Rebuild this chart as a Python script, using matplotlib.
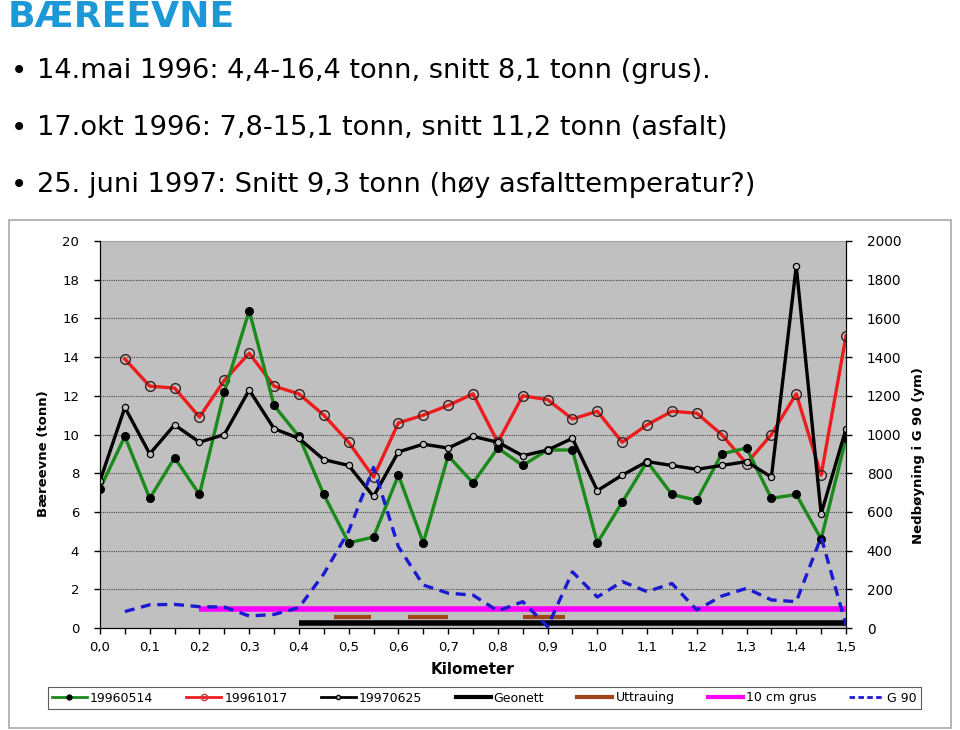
import matplotlib
matplotlib.use("Agg")
import matplotlib.pyplot as plt
from matplotlib.lines import Line2D
from matplotlib.patches import Rectangle
import numpy as np

# ---------------- data ----------------
km = [0.0, 0.05, 0.1, 0.15, 0.2, 0.25, 0.3, 0.35, 0.4, 0.45, 0.5, 0.55, 0.6, 0.65, 0.7,
      0.75, 0.8, 0.85, 0.9, 0.95, 1.0, 1.05, 1.1, 1.15, 1.2, 1.25, 1.3, 1.35, 1.4, 1.45, 1.5]

s19960514 = [7.2, 9.9, 6.7, 8.8, 6.9, 12.2, 16.4, 11.5, 9.9, 6.9, 4.4, 4.7, 7.9, 4.4, 8.9,
             7.5, 9.3, 8.4, 9.2, 9.2, 4.4, 6.5, 8.6, 6.9, 6.6, 9.0, 9.3, 6.7, 6.9, 4.6, 9.8]

s19961017 = [np.nan, 13.9, 12.5, 12.4, 10.9, 12.8, 14.2, 12.5, 12.1, 11.0, 9.6, 7.8, 10.6, 11.0, 11.5,
             12.1, 9.6, 12.0, 11.8, 10.8, 11.2, 9.6, 10.5, 11.2, 11.1, 10.0, 8.5, 10.0, 12.1, 7.9, 15.1]

s19970625 = [7.6, 11.4, 9.0, 10.5, 9.6, 10.0, 12.3, 10.3, 9.8, 8.7, 8.4, 6.8, 9.1, 9.5, 9.3,
             9.9, 9.6, 8.9, 9.2, 9.8, 7.1, 7.9, 8.6, 8.4, 8.2, 8.4, 8.6, 7.8, 18.7, 5.9, 10.3]

g90 = [np.nan, 85, 120, 122, 110, 108, 62, 70, 105, 280, 500, 830, 420, 222, 180,
       170, 88, 136, 7, 290, 160, 240, 188, 230, 93, 165, 205, 145, 136, 470, 15]

geonett_x = [0.4, 1.5]
geonett_y = [0.28, 0.28]
grus_x = [0.2, 1.5]
grus_y = [1.0, 1.0]
uttr_start = [0.47, 0.62, 0.85]
uttr_end = [0.545, 0.70, 0.935]
uttr_level = 0.58

xticks = [0.0, 0.1, 0.2, 0.3, 0.4, 0.5, 0.6, 0.7, 0.8, 0.9, 1.0, 1.1, 1.2, 1.3, 1.4, 1.5]
xticklabels = ["0,0", "0,1", "0,2", "0,3", "0,4", "0,5", "0,6", "0,7", "0,8", "0,9",
               "1,0", "1,1", "1,2", "1,3", "1,4", "1,5"]
yticks_left = [0, 2, 4, 6, 8, 10, 12, 14, 16, 18, 20]
yticks_right = [0, 200, 400, 600, 800, 1000, 1200, 1400, 1600, 1800, 2000]

title = "BÆREEVNE"
bullets = ["14.mai 1996: 4,4-16,4 tonn, snitt 8,1 tonn (grus).",
           "17.okt 1996: 7,8-15,1 tonn, snitt 11,2 tonn (asfalt)",
           "25. juni 1997: Snitt 9,3 tonn (høy asfalttemperatur?)"]

# ---------------- figure ----------------
W, H = 960, 730
fig = plt.figure(figsize=(W / 100, H / 100), dpi=100)
fig.patch.set_facecolor("white")

def fx(px):
    return px / W

def fy(py):
    return 1 - py / H

FONT = "DejaVu Sans"

# Title and bullets
fig.text(fx(8), fy(17), title, fontsize=26, fontweight="bold", color="#1b98d5",
         family=FONT, va="center", ha="left")
for i, b in enumerate(bullets):
    yy = 71 + i * 57
    fig.text(fx(11), fy(yy), "•", fontsize=20, color="black", family=FONT,
             va="center", ha="left")
    fig.text(fx(37), fy(yy), b, fontsize=19.6, color="black", family=FONT,
             va="center", ha="left")

# chart frame
fig.patches.append(Rectangle((fx(9), fy(728)), fx(951) - fx(9), fy(220) - fy(728),
                             transform=fig.transFigure, fill=False, edgecolor="#a8a8a8",
                             linewidth=1.2, zorder=0))

left, right, top, bottom = 100, 846, 241, 628
ax = fig.add_axes([fx(left), fy(bottom), fx(right) - fx(left), fy(top) - fy(bottom)])
ax.set_facecolor("#c0c0c0")
ax.set_xlim(0, 1.5)
ax.set_ylim(0, 20)

for yv in yticks_left[1:-1]:
    ax.axhline(yv, color="#4a4a4a", linestyle=(0, (1, 1)), linewidth=0.8, zorder=1)

lw = 2.4
ax.plot(km, s19960514, color="#1a8a1a", linewidth=lw, marker="o", markersize=5.5,
        markerfacecolor="black", markeredgecolor="black", zorder=4)
ax.plot(km, s19961017, color="#ee1c1c", linewidth=lw, marker="o", markersize=7,
        markerfacecolor="none", markeredgecolor="#3a2020", markeredgewidth=1.0, zorder=3)
ax.plot(km, s19970625, color="black", linewidth=lw, marker="o", markersize=4.5,
        markerfacecolor="#c0c0c0", markeredgecolor="black", markeredgewidth=0.9, zorder=5)
ax.plot(geonett_x, geonett_y, color="black", linewidth=4, solid_capstyle="butt", zorder=3)
ax.hlines([uttr_level] * len(uttr_start), uttr_start, uttr_end, color="#a0441a",
          linewidth=3, zorder=3)
ax.plot(grus_x, grus_y, color="#ff00ff", linewidth=4, solid_capstyle="butt", zorder=3)

ax.set_xticks(xticks)
ax.set_xticklabels(xticklabels)
ax.set_xticks(km, minor=True)
ax.set_yticks(yticks_left)
ax.tick_params(axis="both", which="both", labelsize=9.5, direction="out", length=4, width=1)
ax.tick_params(axis="y", pad=11)
ax.tick_params(axis="x", pad=5)
for lab in ax.get_xticklabels() + ax.get_yticklabels():
    lab.set_family(FONT)
ax.spines["top"].set_color("#a0a0a0")
ax.spines["bottom"].set_color("black")
ax.spines["left"].set_color("black")
ax.spines["right"].set_color("black")
ax.set_xlabel("Kilometer", fontsize=11, fontweight="bold", family=FONT)
ax.xaxis.set_label_coords(0.5, (628 - 662) / 387)
ax.set_ylabel("Bæreevne (tonn)", fontsize=9.5, fontweight="bold", family=FONT)
ax.yaxis.set_label_coords((50 - 100) / 746, (628 - 454) / 387)

ax2 = ax.twinx()
ax2.set_ylim(0, 2000)
ax2.set_yticks(yticks_right)
ax2.plot(km, g90, color="#1a1ad0", linewidth=2.4, linestyle=(0, (3, 2)), zorder=6)
ax2.tick_params(axis="y", labelsize=9.8, direction="out", length=4, width=1, pad=11)
for lab in ax2.get_yticklabels():
    lab.set_family(FONT)
ax2.spines["right"].set_color("black")
ax2.spines["top"].set_visible(False)
ax2.set_ylabel("Nedbøyning i G 90 (ym)", fontsize=9.5, fontweight="bold", family=FONT)
ax2.yaxis.set_label_coords((912 - 100) / 746, (628 - 456) / 387)

handles = [
    Line2D([], [], color="#1a8a1a", lw=2, marker="o", ms=3.5, mfc="black", mec="black"),
    Line2D([], [], color="#ee1c1c", lw=2, marker="o", ms=4.5, mfc="none", mec="#c04040"),
    Line2D([], [], color="black", lw=2, marker="o", ms=3, mfc="#c0c0c0", mec="black"),
    Line2D([], [], color="black", lw=3),
    Line2D([], [], color="#a0441a", lw=3),
    Line2D([], [], color="#ff00ff", lw=3),
    Line2D([], [], color="#1a1ad0", lw=2, ls=(0, (2, 1.2))),
]
labels = ["19960514", "19961017", "19970625", "Geonett", "Uttrauing", "10 cm grus", "G 90"]
leg = fig.legend(handles, labels, loc="center", bbox_to_anchor=(fx(484.5), fy(698)),
                 ncol=7, frameon=True, fancybox=False, edgecolor="#333333",
                 prop={"family": FONT, "size": 9},
                 handlelength=2.8, handletextpad=0.25, columnspacing=2.65,
                 borderpad=0.35)
leg.get_frame().set_linewidth(0.8)

fig.savefig("out.png", dpi=100)
